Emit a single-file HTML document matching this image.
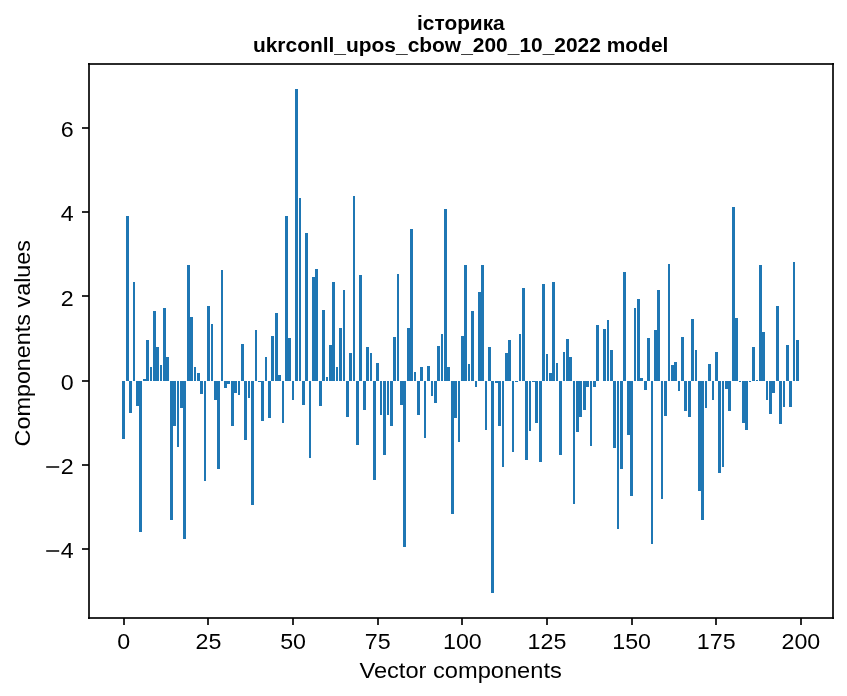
<!DOCTYPE html>
<html><head><meta charset="utf-8"><style>
html,body{margin:0;padding:0;background:#fff;}
body{width:847px;height:696px;overflow:hidden;}
svg{display:block;}
text{font-family:"Liberation Sans",sans-serif;}
svg{will-change:transform;}
</style></head><body>
<svg width="847" height="696" viewBox="0 0 847 696">
<rect x="0" y="0" width="847" height="696" fill="#fff"/>
<g fill="#1f77b4" shape-rendering="crispEdges">
<rect x="122" y="381" width="3" height="58"/>
<rect x="126" y="216" width="3" height="165"/>
<rect x="129" y="381" width="3" height="32"/>
<rect x="133" y="282" width="2" height="99"/>
<rect x="136" y="381" width="3" height="25"/>
<rect x="139" y="381" width="3" height="151"/>
<rect x="143" y="379" width="3" height="2"/>
<rect x="146" y="340" width="3" height="41"/>
<rect x="150" y="367" width="2" height="14"/>
<rect x="153" y="311" width="3" height="70"/>
<rect x="156" y="347" width="3" height="34"/>
<rect x="160" y="365" width="2" height="16"/>
<rect x="163" y="308" width="3" height="73"/>
<rect x="166" y="357" width="3" height="24"/>
<rect x="170" y="381" width="3" height="139"/>
<rect x="173" y="381" width="3" height="45"/>
<rect x="177" y="381" width="2" height="66"/>
<rect x="180" y="381" width="3" height="27"/>
<rect x="183" y="381" width="3" height="158"/>
<rect x="187" y="265" width="3" height="116"/>
<rect x="190" y="317" width="3" height="64"/>
<rect x="194" y="367" width="2" height="14"/>
<rect x="197" y="373" width="3" height="8"/>
<rect x="200" y="381" width="3" height="13"/>
<rect x="204" y="381" width="2" height="100"/>
<rect x="207" y="306" width="3" height="75"/>
<rect x="211" y="324" width="2" height="57"/>
<rect x="214" y="381" width="3" height="19"/>
<rect x="217" y="381" width="3" height="88"/>
<rect x="221" y="270" width="2" height="111"/>
<rect x="224" y="381" width="3" height="7"/>
<rect x="227" y="381" width="3" height="3"/>
<rect x="231" y="381" width="3" height="45"/>
<rect x="234" y="381" width="3" height="12"/>
<rect x="238" y="381" width="2" height="14"/>
<rect x="241" y="344" width="3" height="37"/>
<rect x="244" y="381" width="3" height="59"/>
<rect x="248" y="381" width="2" height="17"/>
<rect x="251" y="381" width="3" height="124"/>
<rect x="255" y="330" width="2" height="51"/>
<rect x="258" y="381" width="3" height="1"/>
<rect x="261" y="381" width="3" height="40"/>
<rect x="265" y="357" width="2" height="24"/>
<rect x="268" y="381" width="3" height="37"/>
<rect x="271" y="336" width="3" height="45"/>
<rect x="275" y="313" width="3" height="68"/>
<rect x="278" y="375" width="3" height="6"/>
<rect x="282" y="381" width="2" height="42"/>
<rect x="285" y="216" width="3" height="165"/>
<rect x="288" y="338" width="3" height="43"/>
<rect x="292" y="381" width="2" height="19"/>
<rect x="295" y="89" width="3" height="292"/>
<rect x="299" y="198" width="2" height="183"/>
<rect x="302" y="381" width="3" height="24"/>
<rect x="305" y="233" width="3" height="148"/>
<rect x="309" y="381" width="2" height="77"/>
<rect x="312" y="277" width="3" height="104"/>
<rect x="315" y="269" width="3" height="112"/>
<rect x="319" y="381" width="3" height="25"/>
<rect x="322" y="310" width="3" height="71"/>
<rect x="326" y="377" width="2" height="4"/>
<rect x="329" y="345" width="3" height="36"/>
<rect x="332" y="282" width="3" height="99"/>
<rect x="336" y="367" width="2" height="14"/>
<rect x="339" y="328" width="3" height="53"/>
<rect x="343" y="290" width="2" height="91"/>
<rect x="346" y="381" width="3" height="36"/>
<rect x="349" y="353" width="3" height="28"/>
<rect x="353" y="196" width="2" height="185"/>
<rect x="356" y="381" width="3" height="64"/>
<rect x="359" y="275" width="3" height="106"/>
<rect x="363" y="381" width="3" height="29"/>
<rect x="366" y="347" width="3" height="34"/>
<rect x="370" y="353" width="2" height="28"/>
<rect x="373" y="381" width="3" height="99"/>
<rect x="376" y="363" width="3" height="18"/>
<rect x="380" y="381" width="2" height="34"/>
<rect x="383" y="381" width="3" height="74"/>
<rect x="387" y="381" width="2" height="34"/>
<rect x="390" y="381" width="3" height="45"/>
<rect x="393" y="337" width="3" height="44"/>
<rect x="397" y="274" width="2" height="107"/>
<rect x="400" y="381" width="3" height="24"/>
<rect x="403" y="381" width="3" height="166"/>
<rect x="407" y="328" width="3" height="53"/>
<rect x="410" y="229" width="3" height="152"/>
<rect x="414" y="372" width="2" height="9"/>
<rect x="417" y="381" width="3" height="34"/>
<rect x="420" y="367" width="3" height="14"/>
<rect x="424" y="381" width="2" height="57"/>
<rect x="427" y="366" width="3" height="15"/>
<rect x="431" y="381" width="2" height="15"/>
<rect x="434" y="381" width="3" height="22"/>
<rect x="437" y="346" width="3" height="35"/>
<rect x="441" y="334" width="2" height="47"/>
<rect x="444" y="209" width="3" height="172"/>
<rect x="447" y="367" width="3" height="14"/>
<rect x="451" y="381" width="3" height="133"/>
<rect x="454" y="381" width="3" height="37"/>
<rect x="458" y="381" width="2" height="61"/>
<rect x="461" y="336" width="3" height="45"/>
<rect x="464" y="265" width="3" height="116"/>
<rect x="468" y="364" width="2" height="17"/>
<rect x="471" y="311" width="3" height="70"/>
<rect x="475" y="381" width="2" height="6"/>
<rect x="478" y="292" width="3" height="89"/>
<rect x="481" y="265" width="3" height="116"/>
<rect x="485" y="381" width="2" height="49"/>
<rect x="488" y="347" width="3" height="34"/>
<rect x="491" y="381" width="3" height="212"/>
<rect x="495" y="381" width="3" height="2"/>
<rect x="498" y="381" width="3" height="45"/>
<rect x="502" y="381" width="2" height="86"/>
<rect x="505" y="353" width="3" height="28"/>
<rect x="508" y="340" width="3" height="41"/>
<rect x="512" y="381" width="2" height="71"/>
<rect x="515" y="381" width="3" height="1"/>
<rect x="519" y="334" width="2" height="47"/>
<rect x="522" y="288" width="3" height="93"/>
<rect x="525" y="381" width="3" height="79"/>
<rect x="529" y="381" width="2" height="50"/>
<rect x="532" y="381" width="3" height="1"/>
<rect x="535" y="381" width="3" height="42"/>
<rect x="539" y="381" width="3" height="81"/>
<rect x="542" y="284" width="3" height="97"/>
<rect x="546" y="354" width="2" height="27"/>
<rect x="549" y="373" width="3" height="8"/>
<rect x="552" y="282" width="3" height="99"/>
<rect x="556" y="363" width="2" height="18"/>
<rect x="559" y="381" width="3" height="74"/>
<rect x="563" y="352" width="2" height="29"/>
<rect x="566" y="339" width="3" height="42"/>
<rect x="569" y="357" width="3" height="24"/>
<rect x="573" y="381" width="2" height="123"/>
<rect x="576" y="381" width="3" height="51"/>
<rect x="579" y="381" width="3" height="36"/>
<rect x="583" y="381" width="3" height="29"/>
<rect x="586" y="381" width="3" height="6"/>
<rect x="590" y="381" width="2" height="65"/>
<rect x="593" y="381" width="3" height="6"/>
<rect x="596" y="325" width="3" height="56"/>
<rect x="603" y="329" width="3" height="52"/>
<rect x="607" y="320" width="2" height="61"/>
<rect x="610" y="350" width="3" height="31"/>
<rect x="613" y="381" width="3" height="67"/>
<rect x="617" y="381" width="2" height="148"/>
<rect x="620" y="381" width="3" height="88"/>
<rect x="623" y="272" width="3" height="109"/>
<rect x="627" y="381" width="3" height="54"/>
<rect x="630" y="381" width="3" height="115"/>
<rect x="634" y="308" width="2" height="73"/>
<rect x="637" y="299" width="3" height="82"/>
<rect x="640" y="378" width="3" height="3"/>
<rect x="644" y="381" width="3" height="9"/>
<rect x="647" y="338" width="3" height="43"/>
<rect x="651" y="381" width="2" height="163"/>
<rect x="654" y="330" width="3" height="51"/>
<rect x="657" y="290" width="3" height="91"/>
<rect x="661" y="381" width="2" height="118"/>
<rect x="664" y="381" width="3" height="35"/>
<rect x="668" y="264" width="2" height="117"/>
<rect x="671" y="365" width="3" height="16"/>
<rect x="674" y="362" width="3" height="19"/>
<rect x="678" y="381" width="2" height="10"/>
<rect x="681" y="337" width="3" height="44"/>
<rect x="684" y="381" width="3" height="30"/>
<rect x="688" y="381" width="3" height="36"/>
<rect x="691" y="319" width="3" height="62"/>
<rect x="695" y="350" width="2" height="31"/>
<rect x="698" y="381" width="3" height="110"/>
<rect x="701" y="381" width="3" height="139"/>
<rect x="705" y="381" width="2" height="27"/>
<rect x="708" y="364" width="3" height="17"/>
<rect x="712" y="381" width="2" height="19"/>
<rect x="715" y="352" width="3" height="29"/>
<rect x="718" y="381" width="3" height="92"/>
<rect x="722" y="381" width="2" height="86"/>
<rect x="725" y="381" width="3" height="8"/>
<rect x="728" y="381" width="3" height="30"/>
<rect x="732" y="207" width="3" height="174"/>
<rect x="735" y="318" width="3" height="63"/>
<rect x="739" y="381" width="2" height="1"/>
<rect x="742" y="381" width="3" height="42"/>
<rect x="745" y="381" width="3" height="49"/>
<rect x="749" y="381" width="2" height="1"/>
<rect x="752" y="347" width="3" height="34"/>
<rect x="756" y="380" width="2" height="1"/>
<rect x="759" y="265" width="3" height="116"/>
<rect x="762" y="332" width="3" height="49"/>
<rect x="766" y="381" width="2" height="19"/>
<rect x="769" y="381" width="3" height="33"/>
<rect x="772" y="381" width="3" height="12"/>
<rect x="776" y="306" width="3" height="75"/>
<rect x="779" y="381" width="3" height="43"/>
<rect x="783" y="381" width="2" height="26"/>
<rect x="786" y="345" width="3" height="36"/>
<rect x="789" y="381" width="3" height="26"/>
<rect x="793" y="262" width="2" height="119"/>
<rect x="796" y="340" width="3" height="41"/>
</g>
<g fill="#2b2b2b" shape-rendering="crispEdges">
<rect x="88" y="63" width="746" height="2"/>
<rect x="88" y="617" width="746" height="2"/>
<rect x="88" y="63" width="2" height="556"/>
<rect x="832" y="63" width="2" height="556"/>
<rect x="123" y="618" width="2" height="7"/>
<rect x="123" y="618" width="2" height="1" fill="#070707"/>
<rect x="207" y="618" width="2" height="7"/>
<rect x="207" y="618" width="2" height="1" fill="#070707"/>
<rect x="292" y="618" width="2" height="7"/>
<rect x="292" y="618" width="2" height="1" fill="#070707"/>
<rect x="377" y="618" width="2" height="7"/>
<rect x="377" y="618" width="2" height="1" fill="#070707"/>
<rect x="461" y="618" width="2" height="7"/>
<rect x="461" y="618" width="2" height="1" fill="#070707"/>
<rect x="546" y="618" width="2" height="7"/>
<rect x="546" y="618" width="2" height="1" fill="#070707"/>
<rect x="631" y="618" width="2" height="7"/>
<rect x="631" y="618" width="2" height="1" fill="#070707"/>
<rect x="715" y="618" width="2" height="7"/>
<rect x="715" y="618" width="2" height="1" fill="#070707"/>
<rect x="800" y="618" width="2" height="7"/>
<rect x="800" y="618" width="2" height="1" fill="#070707"/>
<rect x="82" y="548" width="7" height="2"/>
<rect x="88" y="548" width="1" height="2" fill="#070707"/>
<rect x="46.2" y="550.10" width="13" height="1.8" shape-rendering="auto"/>
<rect x="82" y="464" width="7" height="2"/>
<rect x="88" y="464" width="1" height="2" fill="#070707"/>
<rect x="46.2" y="466.10" width="13" height="1.8" shape-rendering="auto"/>
<rect x="82" y="380" width="7" height="2"/>
<rect x="88" y="380" width="1" height="2" fill="#070707"/>
<rect x="82" y="295" width="7" height="2"/>
<rect x="88" y="295" width="1" height="2" fill="#070707"/>
<rect x="82" y="211" width="7" height="2"/>
<rect x="88" y="211" width="1" height="2" fill="#070707"/>
<rect x="82" y="127" width="7" height="2"/>
<rect x="88" y="127" width="1" height="2" fill="#070707"/>
<rect x="88" y="63" width="2" height="2" fill="#070707"/>
<rect x="832" y="63" width="2" height="2" fill="#070707"/>
<rect x="88" y="617" width="2" height="2" fill="#070707"/>
<rect x="832" y="617" width="2" height="2" fill="#070707"/>
</g>
<g font-size="22.8" fill="#000">
<text transform="translate(123.84,648.8) scale(1.02,1)" text-anchor="middle">0</text>
<text transform="translate(208.47,648.8) scale(1.02,1)" text-anchor="middle">25</text>
<text transform="translate(293.10,648.8) scale(1.02,1)" text-anchor="middle">50</text>
<text transform="translate(377.73,648.8) scale(1.02,1)" text-anchor="middle">75</text>
<text transform="translate(462.36,648.8) scale(1.02,1)" text-anchor="middle">100</text>
<text transform="translate(546.99,648.8) scale(1.02,1)" text-anchor="middle">125</text>
<text transform="translate(631.62,648.8) scale(1.02,1)" text-anchor="middle">150</text>
<text transform="translate(716.25,648.8) scale(1.02,1)" text-anchor="middle">175</text>
<text transform="translate(800.88,648.8) scale(1.02,1)" text-anchor="middle">200</text>
<text transform="translate(73.6,558.46) scale(1.02,1)" text-anchor="end">4</text>
<text transform="translate(73.6,474.18) scale(1.02,1)" text-anchor="end">2</text>
<text transform="translate(73.6,389.90) scale(1.02,1)" text-anchor="end">0</text>
<text transform="translate(73.6,305.62) scale(1.02,1)" text-anchor="end">2</text>
<text transform="translate(73.6,221.34) scale(1.02,1)" text-anchor="end">4</text>
<text transform="translate(73.6,137.06) scale(1.02,1)" text-anchor="end">6</text>
</g>
<text transform="translate(460.6,678) scale(1.0373,1)" font-size="22.8" text-anchor="middle" fill="#000">Vector components</text>
<text transform="translate(30,343.2) rotate(-90) scale(1.0250,1)" font-size="22.8" text-anchor="middle" fill="#000">Components values</text>
<g font-weight="bold" font-size="21" text-anchor="middle" fill="#000">
<text x="460.9" y="30.0" font-size="20.85">історика</text>
<text x="460.65" y="52" font-size="20.94">ukrconll_upos_cbow_200_10_2022 model</text>
</g>
</svg>
</body></html>
